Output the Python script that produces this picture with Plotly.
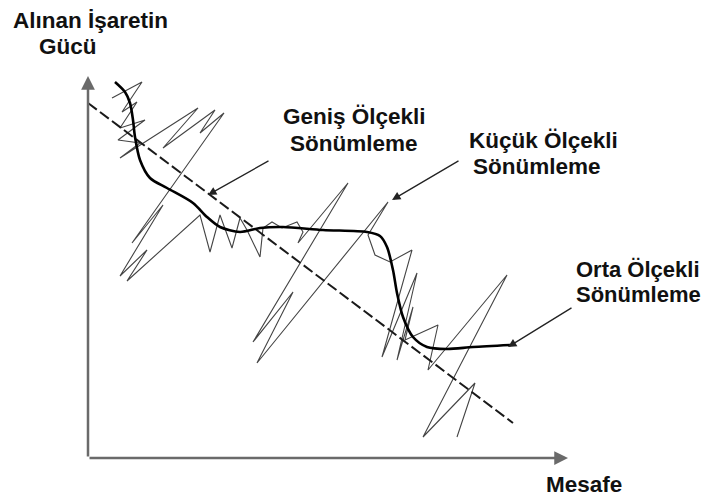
import plotly.graph_objects as go

# Diagram data in (Mesafe, signal) units; origin at the axes corner
zig_x = [24, 54, 34, 49, 32, 57, 30, 52, 32, 110, 75, 127, 112, 136, 44, 75, 32, 59, 39, 112,
         122, 132, 144, 152, 159, 172, 175, 184, 194, 209, 215, 210, 260, 165, 205, 169, 300,
         280, 287, 302, 324, 294, 329, 309, 325, 317, 350, 340, 419, 335, 387, 369]
zig_y = [360, 376, 346, 356, 330, 338, 318, 315, 300, 350, 310, 348, 325, 345, 215, 253, 182, 208, 177, 243,
         206, 243, 210, 240, 228, 201, 230, 236, 230, 236, 226, 215, 275, 116, 166, 95, 256,
         223, 203, 196, 208, 101, 185, 98, 151, 118, 133, 88, 183, 21, 75, 21]

smooth_x = [27, 37, 42, 45, 47, 52, 62, 79, 105, 119, 132, 152, 172, 195, 235, 279, 292, 299,
            305, 309, 315, 325, 339, 359, 385, 422]
smooth_y = [376, 366, 355, 338, 321, 298, 280, 270, 255, 241, 231, 226, 230, 231, 228, 226, 222, 211,
            188, 165, 141, 121, 111, 109, 111, 113]

trend_x = [0, 425]
trend_y = [355, 35]

axis_len_x = 480
axis_len_y = 382

FONT = "Liberation Sans"

fig = go.Figure()
fig.add_trace(go.Scatter(x=zig_x, y=zig_y, mode="lines",
                         line=dict(color="#444444", width=1.1), hoverinfo="skip"))
fig.add_trace(go.Scatter(x=trend_x, y=trend_y, mode="lines",
                         line=dict(color="#1a1a1a", width=2, dash="11px,4px"), hoverinfo="skip"))
fig.add_trace(go.Scatter(x=smooth_x, y=smooth_y, mode="lines",
                         line=dict(color="#000000", width=2.6, shape="spline", smoothing=0.8),
                         hoverinfo="skip"))

ann = []
# axes arrows
ann.append(dict(x=0, y=axis_len_y, ax=0, ay=0, xref="x", yref="y", axref="x", ayref="y",
                showarrow=True, arrowhead=2, arrowsize=1.1, arrowwidth=2.5, arrowcolor="#6a6a6a",
                text=""))
ann.append(dict(x=axis_len_x, y=0, ax=0, ay=0, xref="x", yref="y", axref="x", ayref="y",
                showarrow=True, arrowhead=2, arrowsize=1.1, arrowwidth=2.5, arrowcolor="#6a6a6a",
                text=""))
# pointer arrows
for tip, tail in [((120, 263), (182, 298)), ((304, 258), (372, 298)), ((420, 111), (485, 151))]:
    ann.append(dict(x=tip[0], y=tip[1], ax=tail[0], ay=tail[1], xref="x", yref="y",
                    axref="x", ayref="y", showarrow=True, arrowhead=2, arrowsize=1.3,
                    arrowwidth=1.3, arrowcolor="#222", text=""))

labels = [
    ("Alınan İşaretin", 2, 438, "center", 22.5),
    ("Gücü", -20, 412, "center", 22.5),
    ("Geniş Ölçekli", 266, 342, "center", 22.5),
    ("Sönümleme", 266, 315, "center", 22.5),
    ("Küçük Ölçekli", 455, 318, "center", 22.5),
    ("Sönümleme", 449, 292, "center", 22.5),
    ("Orta Ölçekli", 487, 189, "left", 22),
    ("Sönümleme", 487, 164, "left", 22),
    ("Mesafe", 496, -26, "center", 22.5),
]
for t, x, y, xa, fs in labels:
    ann.append(dict(x=x, y=y, xref="x", yref="y", text=t, showarrow=False,
                    xanchor=xa, yanchor="middle", borderpad=0,
                    font=dict(family=FONT, size=fs, color="#111")))

# the page body has an 8px margin, so the figure starts at (8, 8) in the window
fig.update_layout(
    width=704, height=488,
    margin=dict(l=0, r=0, t=0, b=0),
    paper_bgcolor="white", plot_bgcolor="white",
    showlegend=False,
    annotations=ann,
    xaxis=dict(range=[-80, 624], visible=False, fixedrange=True),
    yaxis=dict(range=[-38, 450], visible=False, fixedrange=True),
)
fig.update_annotations(selector=dict(showarrow=False), font_weight="bold")
fig.write_html("out.html")
